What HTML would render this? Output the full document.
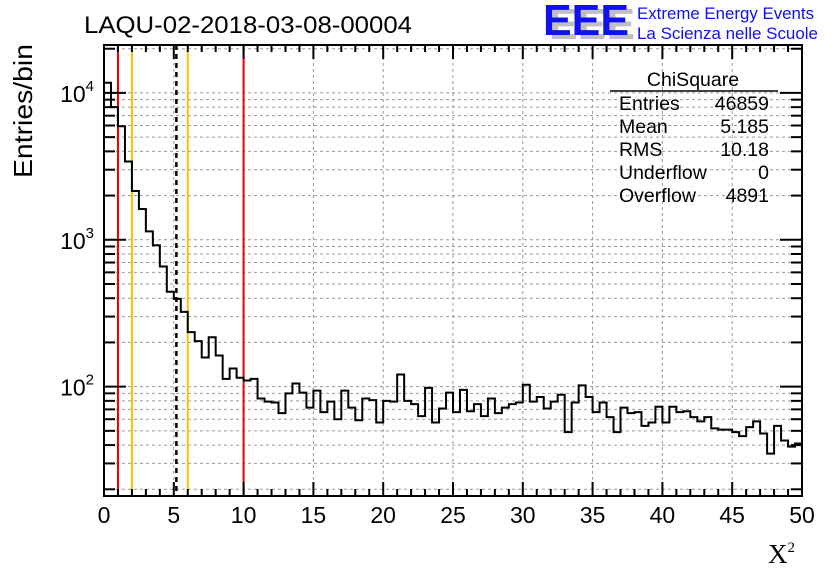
<!DOCTYPE html>
<html><head><meta charset="utf-8"><style>
html,body{margin:0;padding:0;background:#fff;}
svg{display:block;font-family:"Liberation Sans",sans-serif;}
</style></head><body>
<svg id="chart" width="836" height="572" viewBox="0 0 836 572">
<rect width="836" height="572" fill="#fff"/>
<g id="grid"></g>
<g id="marks"></g>
<g id="hist"></g>
<g id="axes"></g>
<text x="84" y="33" font-size="24" textLength="328" lengthAdjust="spacingAndGlyphs">LAQU-02-2018-03-08-00004</text>
<g>
<text x="549" y="39" font-size="44" font-weight="bold" fill="#c0c0c0" textLength="86" lengthAdjust="spacingAndGlyphs">EEE</text>
<text x="543" y="35" font-size="44" font-weight="bold" fill="#1010f0" textLength="86" lengthAdjust="spacingAndGlyphs">EEE</text>
<text x="637" y="19" font-size="17" fill="#1010f0" textLength="177" lengthAdjust="spacingAndGlyphs">Extreme Energy Events</text>
<text x="637" y="39" font-size="17" fill="#1010f0" textLength="181" lengthAdjust="spacingAndGlyphs">La Scienza nelle Scuole</text>
</g>
<g font-size="19.5">
<text x="693" y="86" text-anchor="middle">ChiSquare</text>
<line x1="610" y1="91" x2="778" y2="91" stroke="#000" stroke-width="1.5"/>
<text x="619" y="110">Entries</text><text x="769" y="110" text-anchor="end">46859</text>
<text x="619" y="133">Mean</text><text x="769" y="133" text-anchor="end">5.185</text>
<text x="619" y="156">RMS</text><text x="769" y="156" text-anchor="end">10.18</text>
<text x="619" y="179">Underflow</text><text x="769" y="179" text-anchor="end">0</text>
<text x="619" y="202">Overflow</text><text x="769" y="202" text-anchor="end">4891</text>
</g>
<text transform="translate(32,178) rotate(-90)" font-size="26" textLength="134" lengthAdjust="spacingAndGlyphs">Entries/bin</text>
<text x="768" y="563" font-family="Liberation Serif,serif" font-size="27">X<tspan font-size="15" dy="-11">2</tspan></text>
</svg>
<script>
const binWidth = 0.5;
const counts = [11720,8010,5930,3410,2150,1620,1140,917,658,443,396,323,235,204,158,217,163,113,133,115,110,113,83,79,78,
66,90,105,91,72,94,67,79,60,94,72,59,83,81,57,80,79,121,80,76,63,98,57,71,91,67,95,68,76,63,83,66,72,76,78,103,
79,85,71,79,88,49,78,102,85,67,78,62,49,72,66,67,54,57,73,57,73,67,68,62,58,62,52,51,51,49,46,53,58,48,35,54,43,39,41];
const xTicks = [0,5,10,15,20,25,30,35,40,45,50];
const yDecades = [100,1000,10000];
const yDecadeLabels = ["2","3","4"];
const markerLines = [{x:1,c:"#ee0000",d:""},{x:2,c:"#ffc000",d:""},{x:5.185,c:"#000",d:"5,4"},{x:6,c:"#ffc000",d:""},{x:10,c:"#ee0000",d:""}];

const L=104,R=802,T=45,B=496, yMin=18, yMax=21200;
const sx=v=>L+(v-0)/(50-0)*(R-L);
const sy=v=>B-(Math.log10(v)-Math.log10(yMin))/(Math.log10(yMax)-Math.log10(yMin))*(B-T);
const NS="http://www.w3.org/2000/svg";
function mk(p,tag,attrs){const e=document.createElementNS(NS,tag);for(const k in attrs)e.setAttribute(k,attrs[k]);p.appendChild(e);return e;}
const grid=document.getElementById('grid'), axes=document.getElementById('axes'), hist=document.getElementById('hist'), marks=document.getElementById('marks');
for(const t of xTicks){ if(t===0||t===50) continue;
  const g=mk(grid,'line',{x1:sx(t),x2:sx(t),y1:T,y2:B,stroke:'#999','stroke-dasharray':'3,3','stroke-width':1});
  
  
}
for(let dec=10;dec<=10000;dec*=10){ for(let m=1;m<10;m++){ const v=dec*m; if(v<yMin||v>yMax) continue;
  const y=sy(v);
  const g=mk(grid,'line',{x1:L,x2:R,y1:y,y2:y,stroke:'#999','stroke-dasharray':'3,3','stroke-width':1});
  
  
  const major=(m===1);
  const t1=mk(axes,'line',{x1:L,x2:L+(major?22:11),y1:y,y2:y,stroke:'#000','stroke-width':2});
  
  
  const t2=mk(axes,'line',{x1:R,x2:R-(major?22:11),y1:y,y2:y,stroke:'#000','stroke-width':2});
  
  
}}
for(const m of markerLines){
  const l=mk(marks,'line',{x1:sx(m.x),x2:sx(m.x),y1:T,y2:B,stroke:m.c,'stroke-width':m.d?2.5:2});
  if(m.d) l.setAttribute('stroke-dasharray',m.d);
  
  
}
let d='M'+sx(0)+','+B;
counts.forEach((c,i)=>{const y=sy(c); d+=' L'+sx(i*binWidth)+','+y+' L'+sx((i+1)*binWidth)+','+y;});
const hp=mk(hist,'path',{d:d,fill:'none',stroke:'#000','stroke-width':2});


const fr=mk(axes,'rect',{x:L,y:T,width:R-L,height:B-T,fill:'none',stroke:'#000','stroke-width':2});


for(let v=0;v<=50;v+=1){ const major=(v%5===0); const x=sx(v);
  const a=mk(axes,'line',{x1:x,x2:x,y1:B,y2:B-(major?14:7),stroke:'#000','stroke-width':2});
  
  
  const b=mk(axes,'line',{x1:x,x2:x,y1:T,y2:T+(major?14:7),stroke:'#000','stroke-width':2});
  
  
}
for(const t of xTicks){
  const tx=mk(axes,'text',{x:sx(t),y:B+27,'text-anchor':'middle','font-size':23});
  tx.textContent=String(t);
  
  
}
yDecades.forEach((v,i)=>{
  const tx=mk(axes,'text',{x:94,y:sy(v)+9,'text-anchor':'end','font-size':23});
  tx.textContent='10';
  const ts=mk(tx,'tspan',{dy:-11,'font-size':15});
  ts.textContent=yDecadeLabels[i];
  
  
});
</script>
</body></html>
